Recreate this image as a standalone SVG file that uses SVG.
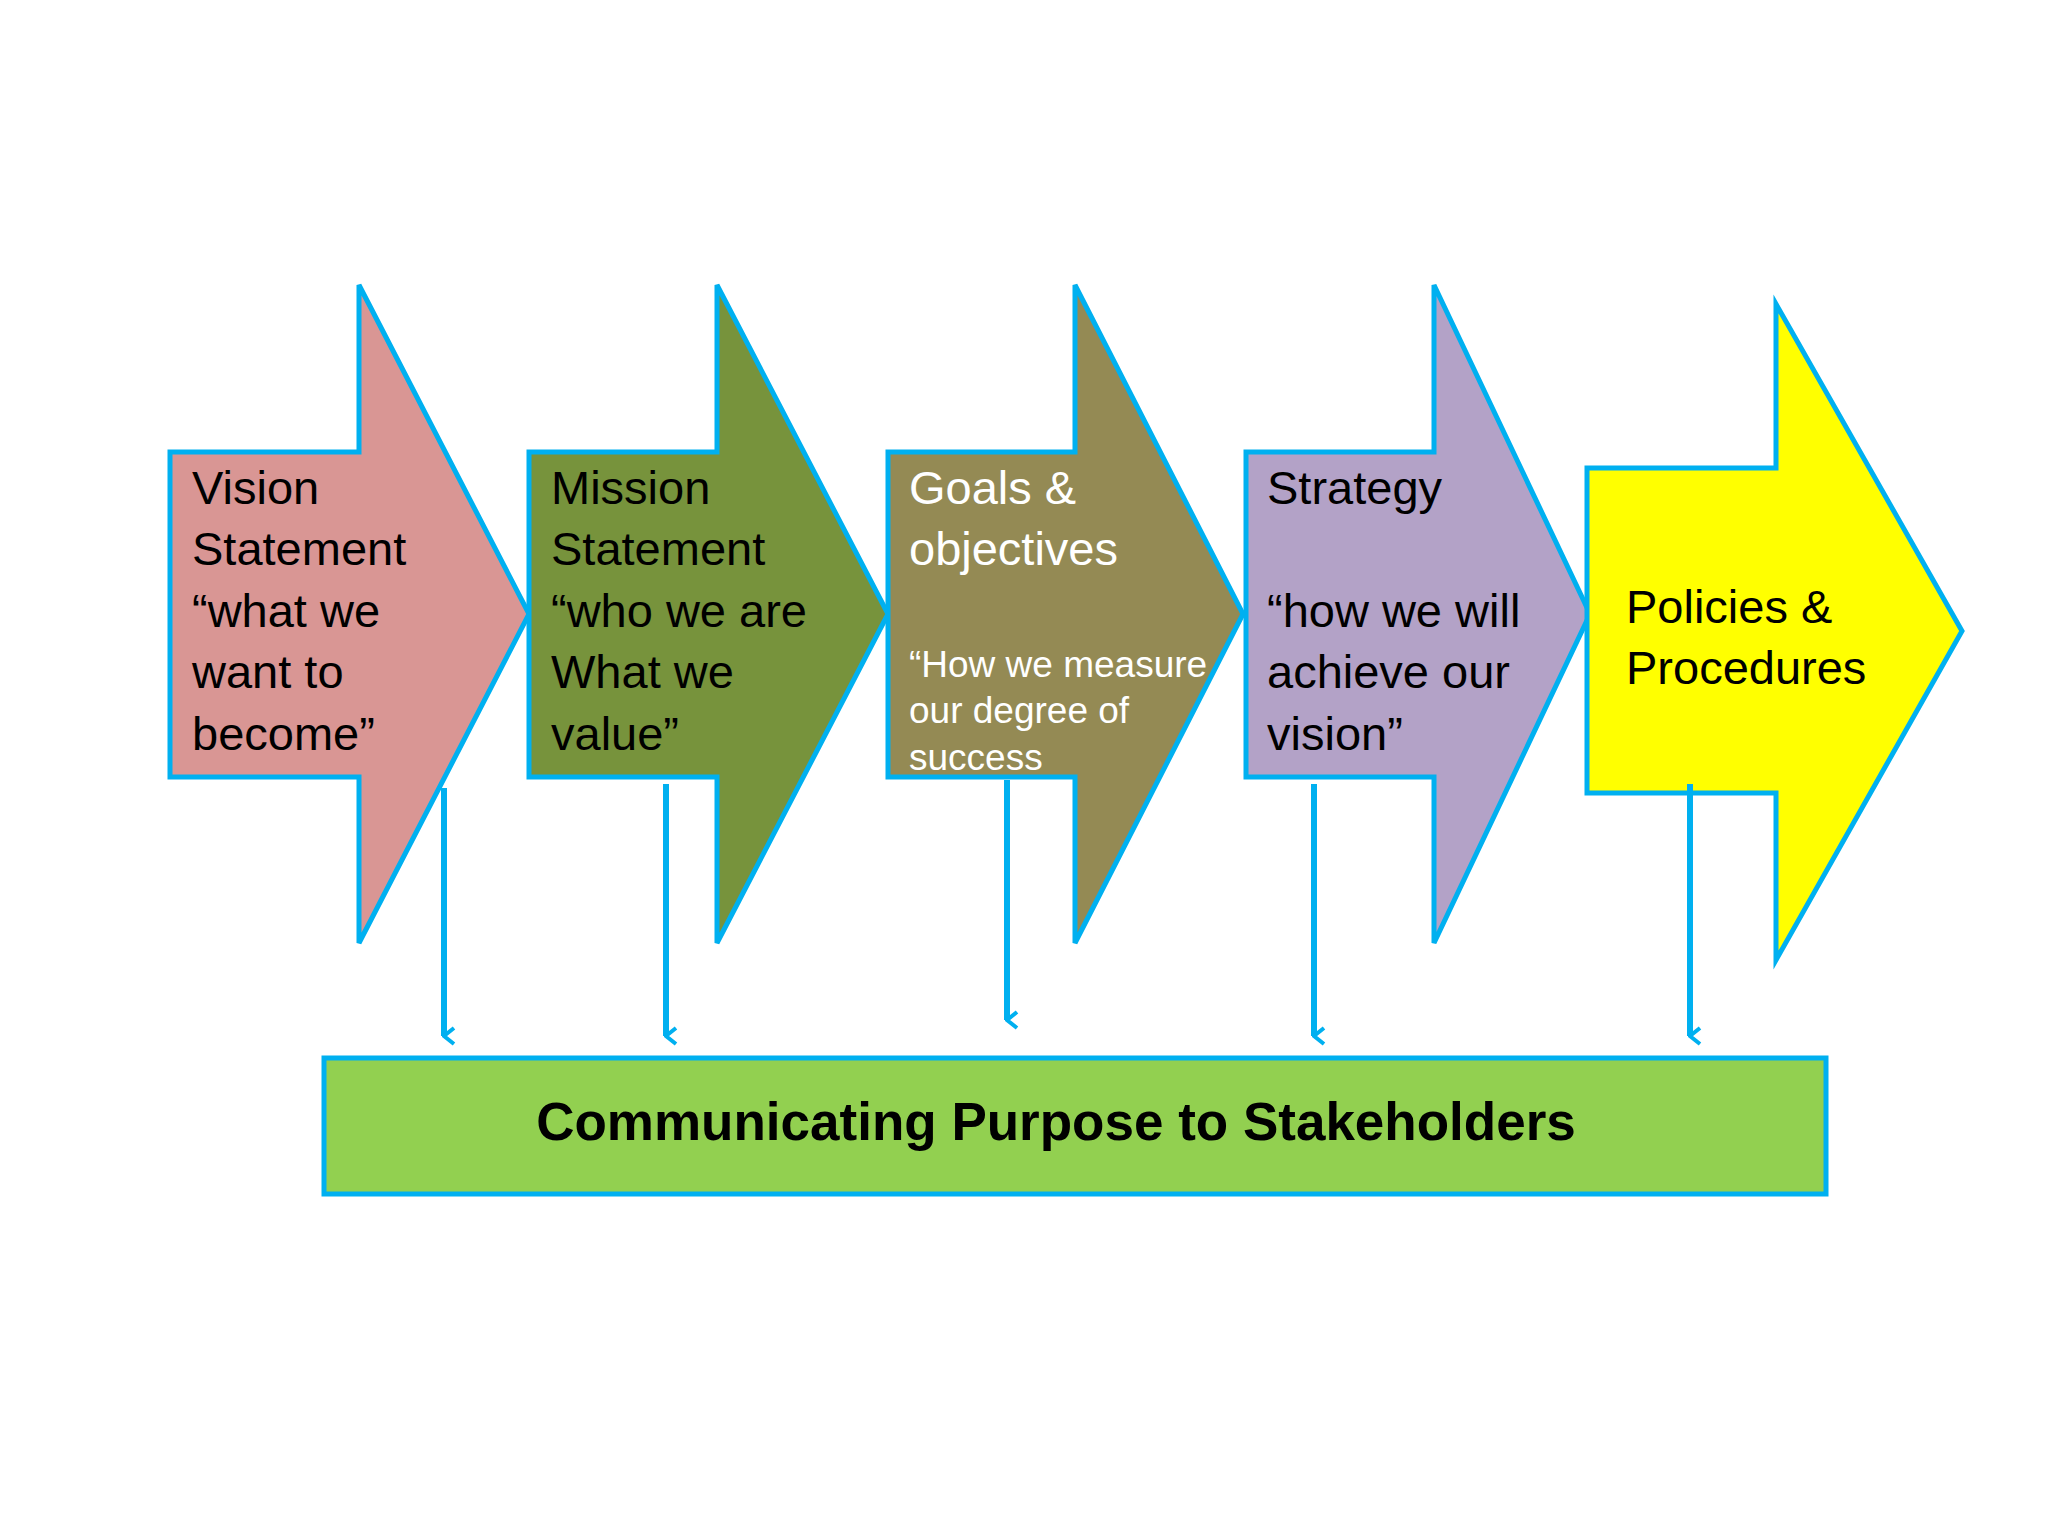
<svg xmlns="http://www.w3.org/2000/svg" width="2048" height="1536" viewBox="0 0 2048 1536">
<defs>
<style>
.a{stroke:#00B0F0;stroke-width:5}
.t{font-family:"Liberation Sans",Arial,sans-serif;font-size:47px}
.c{stroke:#00B0F0;stroke-width:6;fill:none}
</style>
<marker id="m" viewBox="0 0 20 20" refX="10" refY="18" markerWidth="20" markerHeight="20" markerUnits="userSpaceOnUse" orient="auto-start-reverse">
<path d="M2 8 L10 18 L18 8" fill="none" stroke="#00B0F0" stroke-width="4"/>
</marker>
</defs>
<rect width="2048" height="1536" fill="#fff"/>
<g id="vision"><path class="a" fill="#D99694" d="M170 452H359V285L529 614L359 943V777H170Z"/>
<text class="t" fill="#000"><tspan x="192" y="504">Vision</tspan><tspan x="192" y="565">Statement</tspan><tspan x="192" y="627">“what we</tspan><tspan x="192" y="688">want to</tspan><tspan x="192" y="750">become”</tspan></text></g>
<g id="mission"><path class="a" fill="#77933C" d="M529 452H717V285L888 614L717 943V777H529Z"/>
<text class="t" fill="#000"><tspan x="551" y="504">Mission</tspan><tspan x="551" y="565">Statement</tspan><tspan x="551" y="627">“who we are</tspan><tspan x="551" y="688">What we</tspan><tspan x="551" y="750">value”</tspan></text></g>
<g id="goals"><path class="a" fill="#948A54" d="M888 452H1075V285L1243 614L1075 943V777H888Z"/>
<text class="t" fill="#fff"><tspan x="909" y="504">Goals &amp;</tspan><tspan x="909" y="565">objectives</tspan></text>
<text class="t" fill="#fff" style="font-size:37px"><tspan x="909" y="677">“How we measure</tspan><tspan x="909" y="723">our degree of</tspan><tspan x="909" y="770">success</tspan></text></g>
<g id="strategy"><path class="a" fill="#B3A2C7" d="M1246 452H1434V285L1590 614L1434 943V777H1246Z"/>
<text class="t" fill="#000"><tspan x="1267" y="504">Strategy</tspan><tspan x="1267" y="627">“how we will</tspan><tspan x="1267" y="688">achieve our</tspan><tspan x="1267" y="750">vision”</tspan></text></g>
<g id="policies"><path class="a" fill="#FFFF00" d="M1587 468H1776V304L1962 631L1776 960V793H1587Z"/>
<text class="t" fill="#000"><tspan x="1626" y="623">Policies &amp;</tspan><tspan x="1626" y="684">Procedures</tspan></text></g>
<g id="connectors">
<line class="c" x1="444" y1="788" x2="444" y2="1036" marker-end="url(#m)"/>
<line class="c" x1="666" y1="784" x2="666" y2="1036" marker-end="url(#m)"/>
<line class="c" x1="1007" y1="780" x2="1007" y2="1020" marker-end="url(#m)"/>
<line class="c" x1="1314" y1="784" x2="1314" y2="1036" marker-end="url(#m)"/>
<line class="c" x1="1690" y1="784" x2="1690" y2="1036" marker-end="url(#m)"/>
</g>
<g id="stakeholders"><rect x="324" y="1058" width="1502" height="136" fill="#92D050" class="a"/>
<text x="1056" y="1140" text-anchor="middle" style="font-family:'Liberation Sans',Arial,sans-serif;font-size:53px;font-weight:bold">Communicating Purpose to Stakeholders</text></g>
</svg>
